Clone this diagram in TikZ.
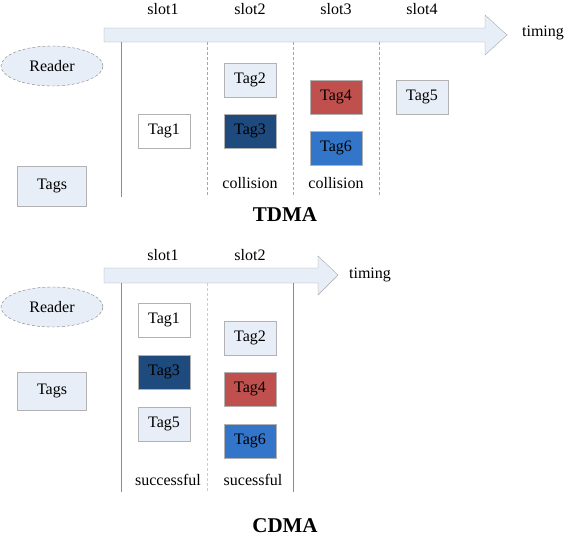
\documentclass[tikz,border=0pt]{standalone}
\usepackage{fontspec}
\setmainfont{Liberation Serif}
\usetikzlibrary{shapes.geometric}
\definecolor{pale}{HTML}{E8EEF7}
\definecolor{navy}{HTML}{1F4A7E}
\definecolor{brick}{HTML}{C0504D}
\definecolor{azure}{HTML}{3375C9}
\begin{document}
\begin{tikzpicture}[x=1pt, y=-1pt,
    tag/.style={rectangle, draw=gray!60, fill=white, minimum width=52pt, minimum height=34pt, inner sep=0pt, font=\fontsize{16}{18}\selectfont},
    lbl/.style={font=\fontsize{16}{18}\selectfont},
    ttl/.style={font=\fontsize{21}{24}\selectfont\bfseries},
    axis/.style={draw=gray!70, fill=pale},
    slotsep/.style={gray!70, densely dashed},
    slotend/.style={gray!90}
]
    \useasboundingbox (0,0) rectangle (568,536);

    % TDMA
    \draw[axis] (104,28) -- (485,28) -- (485,15) -- (507,35) -- (485,55) -- (485,42) -- (104,42) -- cycle;
    \node[lbl] (ttime) at (543,33) {timing};
    \node[lbl] (ts1) at (163,9) {slot1};
    \node[lbl] (ts2) at (250,9) {slot2};
    \node[lbl] (ts3) at (336,9) {slot3};
    \node[lbl] (ts4) at (422,9) {slot4};
    \draw[slotend] (121,42) -- (121,197);
    \draw[slotsep] (207,42) -- (207,197);
    \draw[slotsep] (293,42) -- (293,197);
    \draw[slotsep] (379,42) -- (379,197);

    \node[ellipse, draw=gray, densely dashed, fill=pale, minimum width=102pt, minimum height=40pt, lbl] (treader) at (52,66) {Reader};
    \node[tag, fill=pale, minimum width=69pt, minimum height=40pt] (ttags) at (52,186) {Tags};

    \node[tag] (ttag1) at (164,131) {Tag1};
    \node[tag, fill=pale] (ttag2) at (250,80) {Tag2};
    \node[tag, fill=navy] (ttag3) at (250,131) {Tag3};
    \node[tag, fill=brick] (ttag4) at (336,97) {Tag4};
    \node[tag, fill=azure] (ttag6) at (336,148) {Tag6};
    \node[tag, fill=pale] (ttag5) at (422,97) {Tag5};
    \node[lbl] (tcol1) at (250,183) {collision};
    \node[lbl] (tcol2) at (336,183) {collision};
    \node[ttl] (tdma) at (285,215) {TDMA};

    % CDMA
    \draw[axis] (104,268) -- (318,268) -- (318,256) -- (338,275) -- (318,295) -- (318,283) -- (104,283) -- cycle;
    \node[lbl] (ctime) at (370,275) {timing};
    \node[lbl] (cs1) at (163,255) {slot1};
    \node[lbl] (cs2) at (250,255) {slot2};
    \draw[slotend] (121,283) -- (121,492);
    \draw[slotsep, gray!40] (207,283) -- (207,492);
    \draw[slotend] (293,283) -- (293,492);

    \node[ellipse, draw=gray, densely dashed, fill=pale, minimum width=102pt, minimum height=40pt, lbl] (creader) at (52,307) {Reader};
    \node[tag, fill=pale, minimum width=69pt, minimum height=38pt] (ctags) at (52,391) {Tags};

    \node[tag] (ctag1) at (164,320) {Tag1};
    \node[tag, fill=navy] (ctag3) at (164,372) {Tag3};
    \node[tag, fill=pale] (ctag5) at (164,424) {Tag5};
    \node[tag, fill=pale] (ctag2) at (250,338) {Tag2};
    \node[tag, fill=brick] (ctag4) at (250,389) {Tag4};
    \node[tag, fill=azure] (ctag6) at (250,441) {Tag6};
    \node[lbl] (cok1) at (168,480) {successful};
    \node[lbl] (cok2) at (253,480) {sucessful};
    \node[ttl] (cdma) at (285,526) {CDMA};
\end{tikzpicture}
\end{document}
